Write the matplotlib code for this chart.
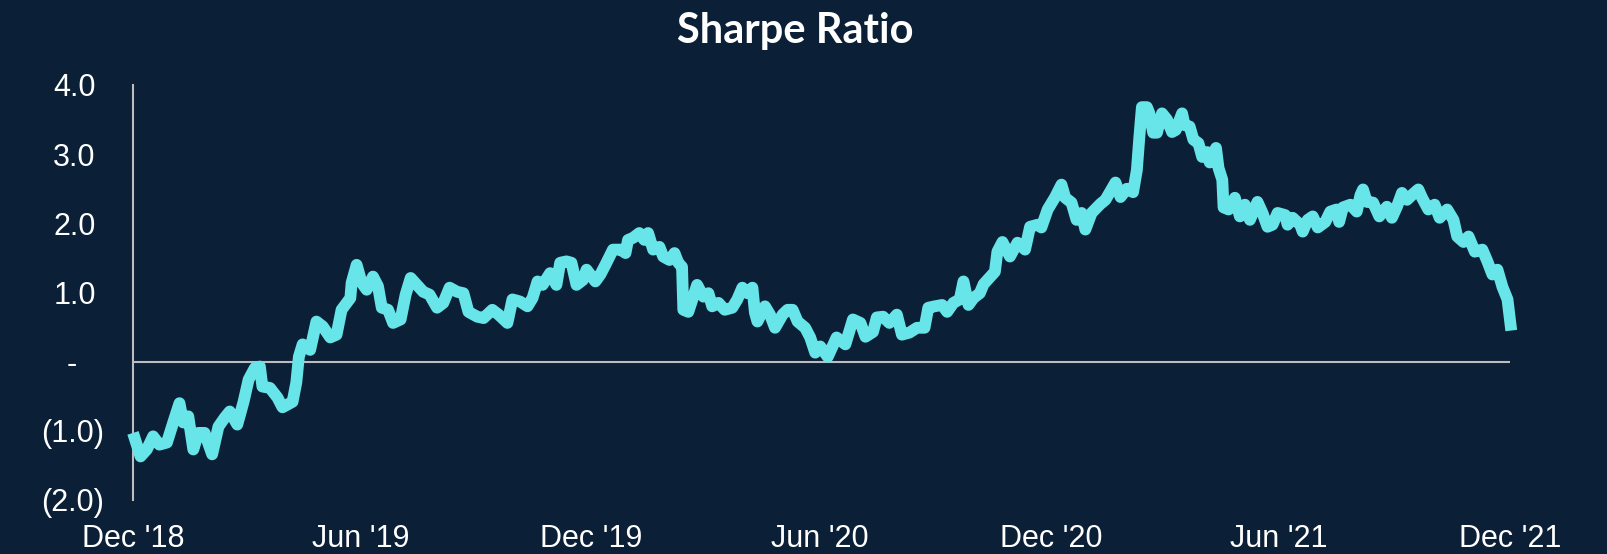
import matplotlib
matplotlib.use('Agg')
import matplotlib.pyplot as plt
import matplotlib.transforms as mtransforms
import pandas as pd

# 数据: 起始日之后的天数, 以及对应的夏普比率
start_date = '2018-12-31'
day_offset = [0, 6, 11, 16, 21, 27, 32, 37, 40, 44, 48, 52, 57, 63, 68, 73, 77, 83, 88, 92,
              97, 101, 103, 109, 115, 119, 127, 130, 132, 135, 141, 146, 151, 157, 162, 166,
              173, 174, 178, 182, 186, 191, 195, 198, 203, 207, 213, 217, 221, 226, 231, 236,
              242, 247, 252, 258, 263, 267, 274, 279, 286, 291, 298, 302, 308, 314, 318, 322,
              326, 332, 337, 340, 345, 349, 353, 358, 361, 368, 372, 376, 382, 388, 392, 394,
              398, 403, 407, 410, 414, 419, 422, 427, 431, 434, 437, 438, 442, 446, 449, 454,
              458, 461, 466, 471, 477, 481, 485, 489, 493, 495, 497, 503, 507, 511, 517, 521,
              525, 529, 535, 539, 543, 547, 553, 560, 567, 573, 579, 583, 589, 592, 597, 602,
              608, 612, 618, 624, 630, 633, 638, 644, 648, 653, 658, 661, 665, 669, 674, 677,
              680, 686, 688, 692, 698, 704, 710, 714, 720, 723, 728, 734, 739, 742, 747, 751,
              755, 758, 763, 770, 774, 782, 786, 791, 796, 799, 801, 803, 807, 809, 812, 815,
              819, 823, 827, 830, 835, 837, 841, 844, 848, 851, 855, 857, 862, 864, 867, 868,
              872, 877, 881, 885, 889, 895, 899, 903, 907, 911, 917, 919, 923, 929, 931, 935,
              939, 943, 949, 953, 958, 960, 963, 969, 974, 977, 979, 982, 987, 992, 998, 1002,
              1006, 1010, 1014, 1018, 1023, 1026, 1031, 1036, 1040, 1046, 1051, 1054, 1059,
              1063, 1068, 1074, 1078, 1082, 1086, 1090, 1094, 1097]
sharpe = [-1.03, -1.37, -1.27, -1.08, -1.20, -1.17, -0.88, -0.60, -0.88, -0.79, -1.27, -1.03,
          -1.03, -1.34, -0.94, -0.81, -0.72, -0.91, -0.58, -0.26, -0.09, -0.07, -0.36, -0.38,
          -0.52, -0.66, -0.58, -0.30, 0.07, 0.25, 0.17, 0.58, 0.51, 0.35, 0.39, 0.75,
          0.92, 1.14, 1.40, 1.14, 1.04, 1.23, 1.09, 0.78, 0.75, 0.56, 0.61, 0.97, 1.21, 1.11,
          1.01, 0.97, 0.78, 0.85, 1.07, 1.01, 0.99, 0.72, 0.65, 0.63, 0.75, 0.68, 0.56, 0.90,
          0.87, 0.80, 0.92, 1.16, 1.11, 1.28, 1.11, 1.43, 1.45, 1.43, 1.11, 1.18, 1.33, 1.16,
          1.26, 1.40, 1.62, 1.62, 1.57, 1.76, 1.79, 1.86, 1.76, 1.86, 1.62, 1.66, 1.52, 1.47,
          1.57, 1.43, 1.37, 0.75, 0.72, 0.94, 1.11, 0.94, 0.99, 0.80, 0.85, 0.75, 0.78, 0.90,
          1.07, 0.99, 1.07, 0.71, 0.58, 0.80, 0.68, 0.49, 0.68, 0.75, 0.75, 0.58, 0.49, 0.35,
          0.13, 0.22, 0.07, 0.35, 0.25, 0.61, 0.56, 0.36, 0.43, 0.64, 0.65, 0.56, 0.68, 0.39,
          0.42, 0.49, 0.49, 0.78, 0.80, 0.82, 0.72, 0.85, 0.90, 1.16, 0.82, 0.92, 0.99, 1.12,
          1.18, 1.30, 1.59, 1.73, 1.52, 1.72, 1.62, 1.95, 1.98, 1.94, 2.20, 2.38, 2.56, 2.37,
          2.30, 2.05, 2.15, 1.91, 2.15, 2.28, 2.34, 2.59, 2.38, 2.50, 2.45, 2.77, 3.25, 3.68,
          3.68, 3.59, 3.31, 3.31, 3.59, 3.50, 3.32, 3.35, 3.59, 3.42, 3.40, 3.21, 3.16, 2.96,
          3.03, 2.88, 3.09, 2.80, 2.63, 2.23, 2.20, 2.37, 2.10, 2.27, 2.05, 2.31, 2.15, 1.95,
          1.98, 2.15, 2.12, 1.98, 2.08, 1.98, 1.88, 2.05, 2.10, 1.94, 2.02, 2.17, 2.20, 2.02,
          2.23, 2.27, 2.17, 2.41, 2.49, 2.31, 2.30, 2.10, 2.24, 2.08, 2.24, 2.44, 2.34, 2.41,
          2.49, 2.37, 2.20, 2.27, 2.08, 2.20, 2.05, 1.81, 1.73, 1.81, 1.59, 1.62, 1.45, 1.26,
          1.33, 1.08, 0.90, 0.45]

tick_dates = ['2018-12-31', '2019-06-30', '2019-12-31', '2020-06-30',
              '2020-12-31', '2021-06-30', '2021-12-31']
tick_labels = ["Dec '18", "Jun '19", "Dec '19", "Jun '20", "Dec '20", "Jun '21", "Dec '21"]
y_ticks = [4, 3, 2, 1, 0, -1, -2]
y_labels = ['4.0', '3.0', '2.0', '1.0', '-', '(1.0)', '(2.0)']

bg = '#0b1f36'
line_color = '#67e5e8'
axis_color = '#bdbdbd'

dates = pd.Timestamp(start_date) + pd.to_timedelta(day_offset, unit='D')

fig = plt.figure(figsize=(16.07, 5.54), dpi=100, facecolor=bg)
ax = fig.add_axes([133 / 1607, 1 - 500 / 554, (1510 - 133) / 1607, 415 / 554])
ax.set_facecolor(bg)

ax.plot(dates, sharpe, color=line_color, lw=8.5, solid_joinstyle='round',
        solid_capstyle='butt', clip_on=False, zorder=3)
ax.axhline(0, color=axis_color, lw=1.5, zorder=2)

ax.set_xlim(pd.Timestamp(tick_dates[0]), pd.Timestamp(tick_dates[-1]))
ax.set_ylim(-2, 4)

for s in ['top', 'right', 'bottom']:
    ax.spines[s].set_visible(False)
ax.spines['left'].set_color(axis_color)
ax.spines['left'].set_linewidth(1.5)

ax.set_xticks(pd.to_datetime(tick_dates))
ax.set_xticklabels(tick_labels, fontsize=22, color='white', family='Liberation Sans')
ax.set_yticks(y_ticks)
ax.set_yticklabels(y_labels, fontsize=22, color='white', family='Liberation Sans')
ax.tick_params(axis='both', length=0)
ax.tick_params(axis='y', pad=21)
ax.tick_params(axis='x', pad=17)

# 会计格式: 正数后面留一个括号的空位, "-" 后面再留一个数字位
for lab, txt in zip(ax.get_yticklabels(), y_labels):
    if txt.startswith('('):
        continue
    dx = 27 if txt == '-' else 8
    off = mtransforms.ScaledTranslation(-dx / 100, 0, fig.dpi_scale_trans)
    lab.set_transform(lab.get_transform() + off)

fig.text(795 / 1607, 1 - 31 / 554, 'Sharpe Ratio', ha='center', va='center',
         fontsize=30, fontweight='bold', color='white', family='Lato')

plt.savefig('out.png', dpi=100, facecolor=bg)
